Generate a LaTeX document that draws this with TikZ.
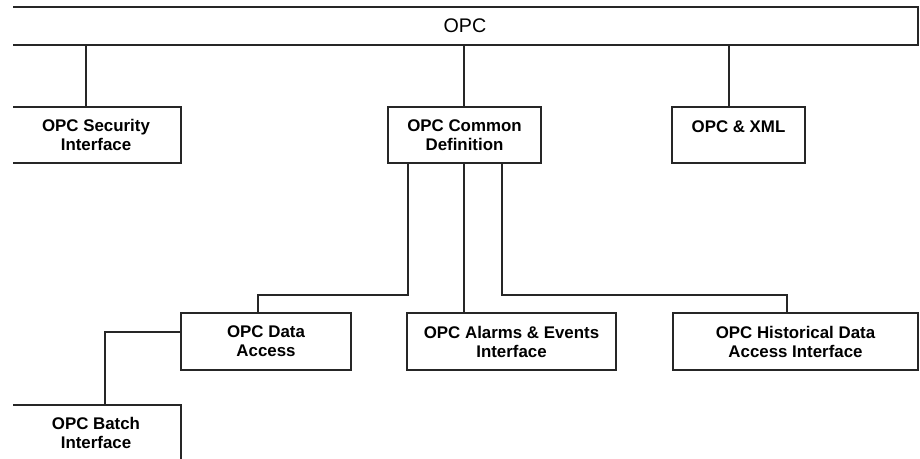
\documentclass[tikz,border=0pt]{standalone}
\usepackage{fontspec}
\setmainfont{Liberation Sans}
\usepackage{tikz}

\tikzset{
  box/.style={draw=black!85, line width=1pt, align=center, inner sep=0pt,
    font=\bfseries\fontsize{12}{13.5}\selectfont},
  link/.style={draw=black!85, line width=1pt}
}

\begin{document}
\begin{tikzpicture}
			\useasboundingbox (0,0) rectangle (23,11.45);
			\clip (0.33,0) rectangle (23,11.45);
			% boxes
			\node[box, minimum width=22.65cm, minimum height=0.95cm, font=\fontsize{14}{16}\selectfont] (opc) at (11.625,10.8) {OPC};
			\node[box, minimum width=4.25cm, minimum height=1.4cm] (sec) at (2.4,8.075) {OPC Security\\Interface};
			\node[box, minimum width=3.825cm, minimum height=1.4cm] (comm) at (11.6125,8.075) {OPC Common\\Definition};
			\node[box, minimum width=3.325cm, minimum height=1.4cm, text depth=0.4cm] (xml) at (18.4625,8.075) {OPC \& XML};
			\node[box, minimum width=4.25cm, minimum height=1.425cm] (data) at (6.65,2.9125) {OPC Data\\Access};
			\node[box, minimum width=5.225cm, minimum height=1.425cm] (alarm) at (12.7875,2.9125) {OPC Alarms \& Events\\Interface};
			\node[box, minimum width=6.125cm, minimum height=1.425cm] (hist) at (19.8875,2.9125) {OPC Historical Data\\Access Interface};
			\node[box, minimum width=4.25cm, minimum height=1.4cm] (batch) at (2.4,0.625) {OPC Batch\\Interface};
			% taps
			\coordinate (sectap) at (2.15,0);
			\coordinate (commtap) at (11.6,0);
			\coordinate (xmltap) at (18.225,0);
			\coordinate (datatap) at (10.2,0);
			\coordinate (histtap) at (12.55,0);
			\coordinate (datadrop) at (6.45,0);
			\coordinate (histdrop) at (19.675,0);
			\coordinate (batchtap) at (2.625,0);
			\coordinate (busy) at (0,4.075);
			\coordinate (batchy) at (0,3.15);
			% links
			\draw[link] (opc.south -| sectap) -- (sec.north -| sectap);
			\draw[link] (opc.south -| commtap) -- (comm.north -| commtap);
			\draw[link] (opc.south -| xmltap) -- (xml.north -| xmltap);
			\draw[link] (comm.south -| datatap) |- (busy -| datadrop) -- (data.north -| datadrop);
			\draw[link] (comm.south -| commtap) -- (alarm.north -| commtap);
			\draw[link] (comm.south -| histtap) |- (busy -| histdrop) -- (hist.north -| histdrop);
			\draw[link] (data.west |- batchy) -| (batch.north -| batchtap);
		\end{tikzpicture}
\end{document}
